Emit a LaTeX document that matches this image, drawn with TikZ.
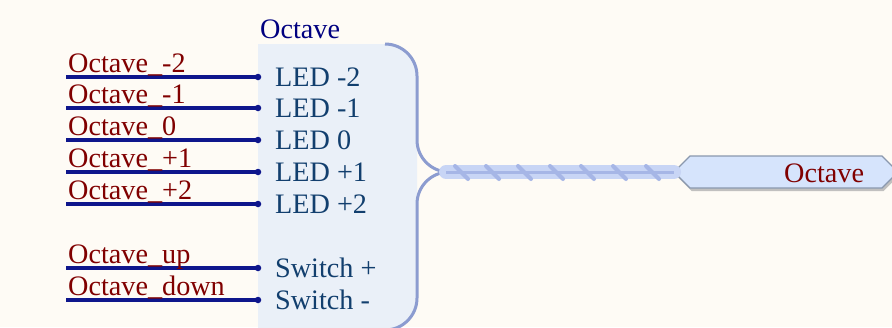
\documentclass[tikz,border=0pt]{standalone}
\usepackage{fontspec}
\setmainfont{Liberation Serif}
\usetikzlibrary{shadows}
\definecolor{bg}{HTML}{FEFBF5}
\definecolor{boxfill}{HTML}{EAF0F8}
\definecolor{bracec}{HTML}{8C9CD0}
\definecolor{busfill}{HTML}{C8D5F5}
\definecolor{busline}{HTML}{A6B6E6}
\definecolor{wirec}{HTML}{0E168C}
\definecolor{netc}{HTML}{800000}
\definecolor{pinc}{HTML}{123F6E}
\definecolor{titlec}{HTML}{000080}
\definecolor{portfill}{HTML}{D6E4FC}
\definecolor{portdraw}{HTML}{8A98AE}
\tikzset{
  big/.style={font=\fontsize{28.2}{30}\selectfont, inner sep=0pt},
  netlabel/.style={big, text=netc, anchor=base west},
  pinlabel/.style={big, text=pinc, anchor=base west},
  pindot/.style={circle, fill=wirec, minimum size=6.5pt, inner sep=0pt},
  wire/.style={draw=wirec, line width=3.3pt},
  bracestyle/.style={draw=bracec, line width=3pt},
}
\begin{document}
\begin{tikzpicture}[x=1pt,y=-1pt]
\useasboundingbox (0,0) rectangle (892,327);
\fill[bg] (0,0) rectangle (892,327);
% block fill
\fill[boxfill] (258,44) -- (385,44) .. controls (402.7,44) and (417,58.3) .. (417,76)
  -- (417,298) .. controls (417,315.7) and (402.7,330) .. (385,330) -- (258,330) -- cycle;
% brace
\draw[bracestyle] (385,44) .. controls (402.7,44) and (417,58.3) .. (417,76)
  -- (417,140) .. controls (417,157.7) and (431.3,172) .. (449,172)
  .. controls (431.3,172) and (417,186.3) .. (417,204)
  -- (417,298) .. controls (417,315.7) and (402.7,330) .. (385,330);
\coordinate (bp) at (446,172);
% title
\node[big, text=titlec, anchor=base west] (title) at (260,38) {Octave};
% port
\coordinate (port) at (674,172);
\filldraw[fill=portfill, draw=portdraw, line width=1.2pt,
  drop shadow={shadow xshift=1.5pt, shadow yshift=-3pt, fill=gray!60, opacity=0.8}]
  (674,172) -- (690,156) -- (882,156) -- (898,172) -- (882,188) -- (690,188) -- cycle;
\node[big, text=netc, anchor=base west] (portlabel) at (784,182) {Octave};
% bus
\draw[busfill, line width=14pt, line cap=round] (bp) -- (port);
\draw[busline, line width=3pt] (bp) -- (port);
\foreach \x in {462,493,525,557,588,620,653}{
  \draw[busline, line width=4pt, line cap=round] (\x-7,166) -- (\x+6,179);
}
% pins and wires
\foreach \i/\y/\net/\pin in {1/77/Octave\_-2/LED -2, 2/108/Octave\_-1/LED -1, 3/140/Octave\_0/LED 0,
  4/172/Octave\_+1/LED +1, 5/204/Octave\_+2/LED +2, 6/268/Octave\_up/Switch +, 7/300/Octave\_down/Switch -}{
  \coordinate (w\i) at (66,\y);
  \node[pindot] (p\i) at (258,\y) {};
  \draw[wire] (w\i) -- (p\i.center);
  \node[netlabel] (n\i) at (68,\y-5) {\net};
  \node[pinlabel] (l\i) at (275,\y+9) {\pin};
}
\end{tikzpicture}
\end{document}
